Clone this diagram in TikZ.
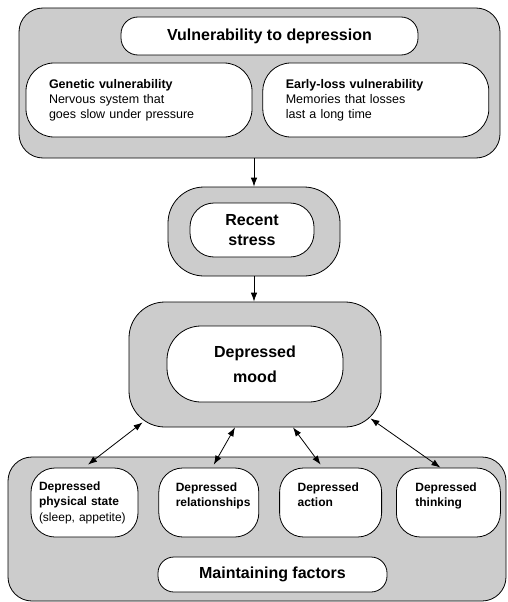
\documentclass[tikz,border=0pt]{standalone}
\usepackage{fontspec}
\setmainfont{Liberation Sans}
\usetikzlibrary{arrows.meta, positioning}
\definecolor{boxgrey}{RGB}{204,204,204}

\begin{document}
\begin{tikzpicture}[
        x=1pt, y=-1pt,
        node distance=20pt and 20pt,
        outer/.style={rectangle, draw=black, fill=boxgrey, line width=0.8pt, inner sep=0pt},
        pill/.style={rectangle, draw=black, fill=white, line width=0.8pt, inner sep=0pt, align=center},
        bigtext/.style={font=\fontsize{16}{20}\selectfont\bfseries},
        moodtext/.style={font=\fontsize{16}{25}\selectfont\bfseries},
        toptext/.style={font=\fontsize{12.5}{15}\selectfont, align=left},
        lowtext/.style={font=\fontsize{12}{15.5}\selectfont, align=left, minimum height=69pt, rounded corners=24pt},
        arrow/.style={-{Latex[length=9pt, width=6.5pt]}, line width=0.8pt},
        dblarrow/.style={{Latex[length=9pt, width=6.5pt]}-{Latex[length=9pt, width=6.5pt]}, line width=0.8pt}
    ]
    \useasboundingbox (0,0) rectangle (508,602);

    % Grey boxes
    \node[outer, minimum width=481pt, minimum height=150pt, rounded corners=24pt] (vulnbox) at (259.5,83) {};
    \node[outer, minimum width=172pt, minimum height=89pt, rounded corners=36pt] (stressbox) at (254,231.5) {};
    \node[outer, minimum width=252pt, minimum height=125pt, rounded corners=36pt] (moodbox) at (255,364.5) {};
    \node[outer, minimum width=498pt, minimum height=144pt, rounded corners=24pt] (maintbox) at (257,529) {};

    % Vulnerability
    \node[pill, bigtext, minimum width=297pt, minimum height=38pt, rounded corners=17pt] (vulntitle) at (269.5,36) {Vulnerability to depression};
    \node[pill, toptext, text width=180pt, inner xsep=23pt, minimum height=74pt, rounded corners=28pt] (genetic) at (139,100)
        {\textbf{Genetic vulnerability}\\Nervous system that\\goes slow under pressure};
    \node[pill, toptext, text width=180pt, inner xsep=23pt, minimum height=74pt, rounded corners=28pt, right=10pt of genetic] (earlyloss)
        {\textbf{Early-loss vulnerability}\\Memories that losses\\last a long time};

    % Stress and mood
    \node[pill, bigtext, minimum width=124pt, minimum height=54pt, rounded corners=24pt] (stress) at (252,230) {Recent\\stress};
    \node[pill, moodtext, minimum width=176pt, minimum height=76pt, rounded corners=34pt] (mood) at (255,364) {Depressed\\mood};

    % Maintaining factors
    \node[pill, lowtext, text width=91pt, inner xsep=8pt] (physical) at (84.5,502.5)
        {\textbf{Depressed}\\\textbf{physical state}\\\mbox{(sleep, appetite)}};
    \node[pill, lowtext, text width=66pt, inner xsep=17pt, right=of physical] (relations)
        {\textbf{Depressed}\\\textbf{relationships}\\\phantom{x}};
    \node[pill, lowtext, text width=66pt, inner xsep=18pt, right=of relations] (action)
        {\textbf{Depressed}\\\textbf{action}\\\phantom{x}};
    \node[pill, lowtext, text width=66pt, inner xsep=19pt, right=14pt of action] (thinking)
        {\textbf{Depressed}\\\textbf{thinking}\\\phantom{x}};
    \node[pill, bigtext, minimum width=229pt, minimum height=35pt, rounded corners=16pt] (maint) at (272.5,574.5) {Maintaining factors};

    % Arrows
    \draw[arrow] (vulnbox.south -| stressbox.north) -- (stressbox.north);
    \draw[arrow] (stressbox.south) -- (stressbox.south |- moodbox.north);
    \draw[dblarrow] ([xshift=14pt, yshift=5pt]moodbox.south west) -- ([xshift=3.5pt, yshift=3pt]physical.north);
    \draw[dblarrow] ([xshift=-20pt]moodbox.south) -- ([xshift=5pt, yshift=3pt]relations.north);
    \draw[dblarrow] ([xshift=38pt]moodbox.south) -- ([xshift=-10pt, yshift=3pt]action.north);
    \draw[dblarrow] ([xshift=-11pt, yshift=9pt]moodbox.south east) -- ([xshift=-8pt]thinking.north);

\end{tikzpicture}
\end{document}
